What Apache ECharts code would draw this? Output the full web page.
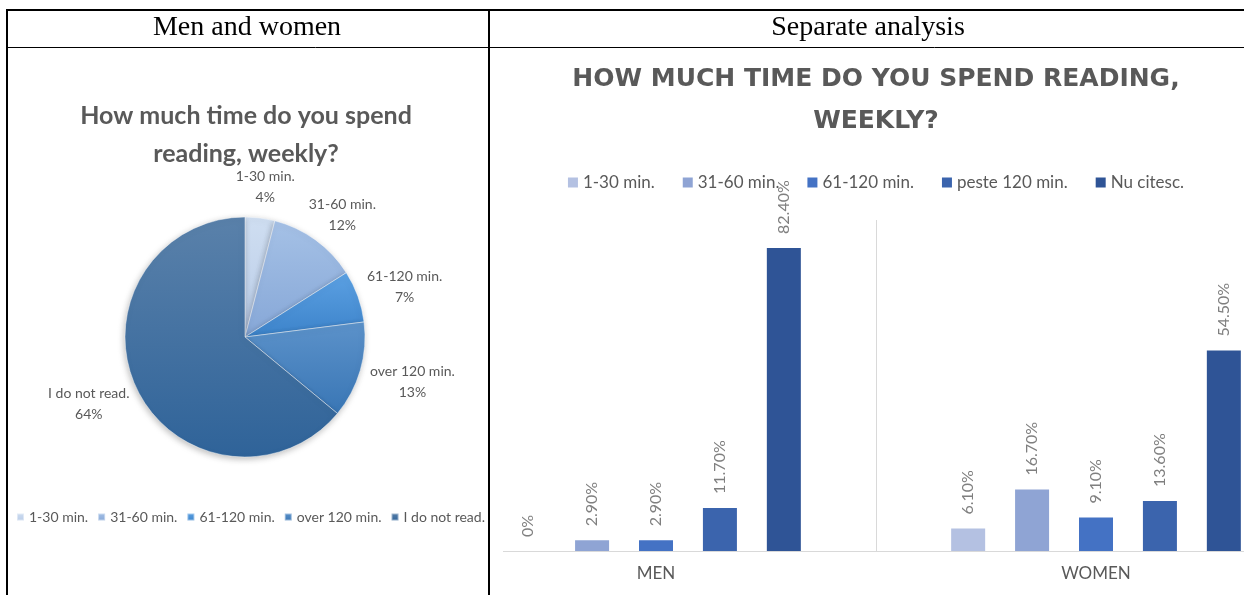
<!DOCTYPE html>
<html><head><meta charset="utf-8">
<script src="https://cdn.jsdelivr.net/npm/echarts@6/dist/echarts.min.js"></script>
<style>
html,body{margin:0;padding:0;background:#fff;width:1244px;height:595px;overflow:hidden}
#main{position:absolute;left:0;top:0;width:1244px;height:595px}
#barClip{position:absolute;left:503px;top:48px;width:741px;height:547px;overflow:hidden}
#bar{position:absolute;left:-67px;top:0;width:880px;height:547px}
</style></head><body>
<div id="main"></div>
<div id="barClip"><div id="bar"></div></div>
<script>
// ---- data ----
const headerLeft = 'Men and women';
const headerRight = 'Separate analysis';
const pieTitle = 'How much time do you spend\nreading, weekly?';
const pieCategories = ['1-30 min.', '31-60 min.', '61-120 min.', 'over 120 min.', 'I do not read.'];
const pieValues = [4, 12, 7, 13, 64];
const barTitle = 'HOW MUCH TIME DO YOU SPEND READING,\nWEEKLY?';
const barGroups = ['MEN', 'WOMEN'];
const barSeriesNames = ['1-30 min.', '31-60 min.', '61-120 min.', 'peste 120 min.', 'Nu citesc.'];
const menValues = [0, 2.9, 2.9, 11.7, 82.4];
const womenValues = [6.1, 16.7, 9.1, 13.6, 54.5];

// ---- styles ----
const pieColors = [
  ['#cfdef1', '#b9cce8'],
  ['#a5c1e6', '#86a7d7'],
  ['#5ca1e3', '#3c83ca'],
  ['#5c92ca', '#3976b5'],
  ['#5a81aa', '#2f6399']
];
const barColors = ['#b4c1e2', '#8fa4d4', '#4472c4', '#3b64ad', '#2f5496'];
const PCX = 245, PCY = 337, PR = 120, PGAP = 12;
const gray = '#595959';

function grad(c) {
  return new echarts.graphic.LinearGradient(0, 0, 0, 1, [
    { offset: 0, color: c[0] }, { offset: 1, color: c[1] }
  ]);
}

const total = pieValues.reduce((a, b) => a + b, 0);

const main = echarts.init(document.getElementById('main'), null, { renderer: 'canvas' });
main.setOption({
  animation: false,
  backgroundColor: '#ffffff',
  title: [
    { text: headerLeft, left: 247, top: 14, textAlign: 'center', padding: 0,
      textStyle: { fontFamily: 'Liberation Serif', fontSize: 28, fontWeight: 'normal', color: '#000' } },
    { text: headerRight, left: 868, top: 14, textAlign: 'center', padding: 0,
      textStyle: { fontFamily: 'Liberation Serif', fontSize: 28, fontWeight: 'normal', color: '#000' } },
    { text: pieTitle, left: 246, top: 97, textAlign: 'center', padding: 0,
      textStyle: { fontFamily: 'Lato', fontSize: 25, fontWeight: 'bold', lineHeight: 38, color: gray } }
  ],
  legend: {
    data: pieCategories, left: 16, top: 510, padding: 0, icon: 'rect', itemWidth: 7, itemHeight: 7, itemGap: 9,
    textStyle: { fontFamily: 'Lato', fontSize: 14, color: gray }
  },
  graphic: [
    { type: 'line', shape: { x1: 6, y1: 10, x2: 1244, y2: 10 }, style: { stroke: '#000', lineWidth: 2 } },
    { type: 'line', shape: { x1: 6, y1: 47.5, x2: 1244, y2: 47.5 }, style: { stroke: '#000', lineWidth: 1 } },
    { type: 'line', shape: { x1: 7, y1: 9, x2: 7, y2: 595 }, style: { stroke: '#000', lineWidth: 2 } },
    { type: 'line', shape: { x1: 489, y1: 9, x2: 489, y2: 595 }, style: { stroke: '#000', lineWidth: 2 } }
  ],
  series: [{
    type: 'pie',
    center: [PCX, PCY],
    radius: PR,
    startAngle: 90,
    clockwise: true,
    avoidLabelOverlap: false,
    data: pieCategories.map((n, i) => ({
      name: n, value: pieValues[i],
      itemStyle: { color: grad(pieColors[i]) }
    })),
    itemStyle: { borderColor: 'rgba(255,255,255,0.45)', borderWidth: 1,
      shadowBlur: 6, shadowColor: 'rgba(0,0,0,0.25)', shadowOffsetX: -1, shadowOffsetY: 2 },
    label: {
      show: true, position: 'outside',
      formatter: p => p.name + '\n' + p.value + '%',
      fontFamily: 'Lato', fontSize: 14, lineHeight: 21, color: gray
    },
    labelLine: { show: false },
    labelLayout: function (p) {
      const i = p.dataIndex;
      let before = 0;
      for (let k = 0; k < i; k++) before += pieValues[k];
      const mid = (before + pieValues[i] / 2) / total * Math.PI * 2;
      const ux = Math.sin(mid), uy = -Math.cos(mid);
      const R = PR + PGAP;
      return {
        x: PCX + ux * R + ux * p.labelRect.width / 2,
        y: PCY + uy * R + uy * p.labelRect.height / 2 + 2,
        align: 'center', verticalAlign: 'middle'
      };
    },
    emphasis: { disabled: true }
  }]
});

const bar = echarts.init(document.getElementById('bar'), null, { renderer: 'canvas' });
bar.setOption({
  animation: false,
  title: {
    text: barTitle, left: 'center', top: 10, padding: 0,
    textStyle: { fontFamily: 'DejaVu Sans', fontSize: 25, fontWeight: 'bold', lineHeight: 42, color: gray }
  },
  legend: {
    data: barSeriesNames, left: 'center', top: 121, icon: 'rect', itemWidth: 10, itemHeight: 10, itemGap: 28,
    textStyle: { fontFamily: 'Lato', fontSize: 17, color: gray }
  },
  grid: { left: 0, right: 0, top: 172, bottom: 44, containLabel: false },
  xAxis: {
    type: 'category', data: barGroups,
    axisLine: { lineStyle: { color: '#d9d9d9', width: 1 } },
    axisTick: { show: false },
    splitLine: { show: true, interval: 0, lineStyle: { color: '#d9d9d9', width: 1 } },
    axisLabel: { margin: 14, fontFamily: 'Lato', fontSize: 17, color: gray }
  },
  yAxis: { type: 'value', min: 0, max: 90, show: false },
  series: barSeriesNames.map((n, i) => ({
    type: 'bar', name: n,
    data: [menValues[i], womenValues[i]],
    barWidth: 34, barGap: '88%',
    itemStyle: { color: barColors[i] },
    label: {
      show: true, position: 'top', rotate: 90, align: 'left', verticalAlign: 'middle', distance: 14,
      formatter: p => (p.value === 0 ? '0%' : p.value.toFixed(2) + '%'),
      fontFamily: 'Lato', fontSize: 16, color: '#7f7f7f'
    },
    emphasis: { disabled: true }
  }))
});
</script>
</body></html>
